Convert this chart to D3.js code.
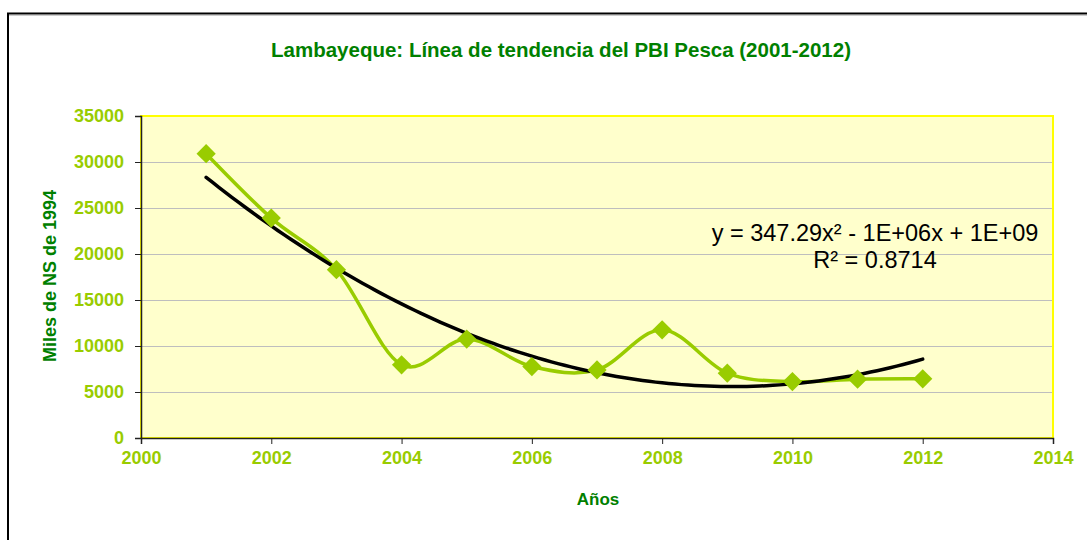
<!DOCTYPE html>
<html>
<head>
<meta charset="utf-8">
<script src="https://cdn.jsdelivr.net/npm/d3@7"></script>
<style>
  body { margin: 0; background: #fff; }
  svg { display: block; font-family: "Liberation Sans", Arial, sans-serif; }
</style>
</head>
<body>
<script>
var w = 1087;
var h = 540;

// PBI Pesca, Lambayeque (miles de NS de 1994)
var years = [2001, 2002, 2003, 2004, 2005, 2006, 2007, 2008, 2009, 2010, 2011, 2012];
var pesca = [30900, 23900, 18300, 7950, 10750, 7770, 7400, 11760, 7050, 6130, 6390, 6430];
var xTicks = [2000, 2002, 2004, 2006, 2008, 2010, 2012, 2014];
var yTicks = [0, 5000, 10000, 15000, 20000, 25000, 30000, 35000];
var eqLines = ["y = 347.29x\u00b2 - 1E+06x + 1E+09", "R\u00b2 = 0.8714"];

var plot = { left: 141, top: 116, right: 1053, bottom: 438 };

var xScale = d3.scaleLinear().domain([2000, 2014]).range([plot.left, plot.right]);
var yScale = d3.scaleLinear().domain([0, 35000]).range([plot.bottom, plot.top]);

var svg = d3.select("body").append("svg")
    .attr("width", w)
    .attr("height", h);

// outer chart frame (only left and top are inside the picture)
svg.append("path")
    .attr("d", "M8,600 V13.5 H1100")
    .attr("fill", "none")
    .attr("stroke", "#000")
    .attr("stroke-width", 2);
svg.append("line")
    .attr("x1", 9).attr("x2", 1100).attr("y1", 15.5).attr("y2", 15.5)
    .attr("stroke", "#ccc").attr("stroke-width", 1);

// plot area
svg.append("rect")
    .attr("x", plot.left).attr("y", plot.top)
    .attr("width", plot.right - plot.left)
    .attr("height", plot.bottom - plot.top)
    .attr("fill", "#FFFFCC")
    .attr("stroke", "#FFFF00")
    .attr("stroke-width", 2);

// gridlines
svg.selectAll(".grid")
    .data(yTicks.filter(function(d) { return d > 0 && d < 35000; }))
    .enter().append("line")
    .attr("x1", plot.left).attr("x2", plot.right - 1)
    .attr("y1", function(d) { return Math.round(yScale(d)) + 0.5; })
    .attr("y2", function(d) { return Math.round(yScale(d)) + 0.5; })
    .attr("stroke", "#BEBEBE")
    .attr("stroke-width", 1);

// axes
var yAxis = svg.append("g")
    .attr("transform", "translate(" + plot.left + ",0)")
    .call(d3.axisLeft(yScale).tickValues(yTicks).tickFormat(d3.format("d")).tickSizeOuter(0).tickSize(6).tickPadding(11));
var xAxis = svg.append("g")
    .attr("transform", "translate(0," + plot.bottom + ")")
    .call(d3.axisBottom(xScale).tickValues(xTicks).tickFormat(d3.format("d")).tickSizeOuter(0).tickSize(6).tickPadding(7));

[yAxis, xAxis].forEach(function(ax) {
  ax.select(".domain").attr("stroke", "#222").attr("stroke-width", 1.5);
  ax.selectAll(".tick line").attr("stroke", "#222");
  ax.selectAll(".tick text")
    .attr("fill", "#99CC00")
    .attr("font-size", "18px")
    .attr("font-weight", "bold")
    .attr("font-family", "Liberation Sans, Arial, sans-serif");
});

// series line, smoothed like the spreadsheet
var pts = years.map(function(y, i) { return [y, pesca[i]]; });
var line = d3.line()
    .x(function(d) { return xScale(d[0]); })
    .y(function(d) { return yScale(d[1]); })
    .curve(d3.curveCardinal.tension(0));

svg.append("path")
    .datum(pts)
    .attr("d", line)
    .attr("fill", "none")
    .attr("stroke", "#99CC00")
    .attr("stroke-width", 3.5);

// polynomial (order 2) trend, least squares on the data
function fit2(xs, ys) {
  var s = [0, 0, 0, 0, 0], t = [0, 0, 0];
  xs.forEach(function(x, i) {
    for (var k = 0; k <= 4; k++) s[k] += Math.pow(x, k);
    for (var k2 = 0; k2 <= 2; k2++) t[k2] += ys[i] * Math.pow(x, k2);
  });
  var A = [[s[0], s[1], s[2], t[0]], [s[1], s[2], s[3], t[1]], [s[2], s[3], s[4], t[2]]];
  for (var c = 0; c < 3; c++) {
    for (var r = c + 1; r < 3; r++) {
      var f = A[r][c] / A[c][c];
      for (var j = c; j < 4; j++) A[r][j] -= f * A[c][j];
    }
  }
  var b = [0, 0, 0];
  for (var r2 = 2; r2 >= 0; r2--) {
    var v = A[r2][3];
    for (var j2 = r2 + 1; j2 < 3; j2++) v -= A[r2][j2] * b[j2];
    b[r2] = v / A[r2][r2];
  }
  return b;
}
var tx = years.map(function(y) { return y - years[0]; });
var coef = fit2(tx, pesca);
var trendPts = d3.range(0, 11.001, 0.1).map(function(t) {
  return [years[0] + t, coef[0] + coef[1] * t + coef[2] * t * t];
});
svg.append("path")
    .datum(trendPts)
    .attr("d", d3.line()
        .x(function(d) { return xScale(d[0]); })
        .y(function(d) { return yScale(d[1]); }))
    .attr("fill", "none")
    .attr("stroke", "#000")
    .attr("stroke-width", 3.5)
    .attr("stroke-linecap", "round");

// markers
svg.selectAll(".mk")
    .data(pts)
    .enter().append("path")
    .attr("d", d3.symbol().type(d3.symbolSquare).size(185))
    .attr("transform", function(d) {
      return "translate(" + xScale(d[0]) + "," + yScale(d[1]) + ") rotate(45)";
    })
    .attr("fill", "#99CC00");

// equation label
svg.selectAll(".eq")
    .data(eqLines)
    .enter().append("text")
    .attr("x", 875)
    .attr("y", function(d, i) { return 241 + i * 27; })
    .attr("text-anchor", "middle")
    .attr("font-size", "23.5px")
    .attr("fill", "#000")
    .text(function(d) { return d; });

// title and axis titles
svg.append("text")
    .attr("x", 561).attr("y", 57)
    .attr("text-anchor", "middle")
    .attr("font-size", "20.5px")
    .attr("font-weight", "bold")
    .attr("fill", "#008000")
    .text("Lambayeque: Línea de tendencia del PBI Pesca (2001-2012)");

svg.append("text")
    .attr("x", 598).attr("y", 505)
    .attr("text-anchor", "middle")
    .attr("font-size", "17px")
    .attr("font-weight", "bold")
    .attr("fill", "#008000")
    .text("Años");

svg.append("text")
    .attr("transform", "translate(56,276) rotate(-90)")
    .attr("text-anchor", "middle")
    .attr("font-size", "18px")
    .attr("font-weight", "bold")
    .attr("fill", "#008000")
    .text("Miles  de NS de 1994");
</script>
</body>
</html>
